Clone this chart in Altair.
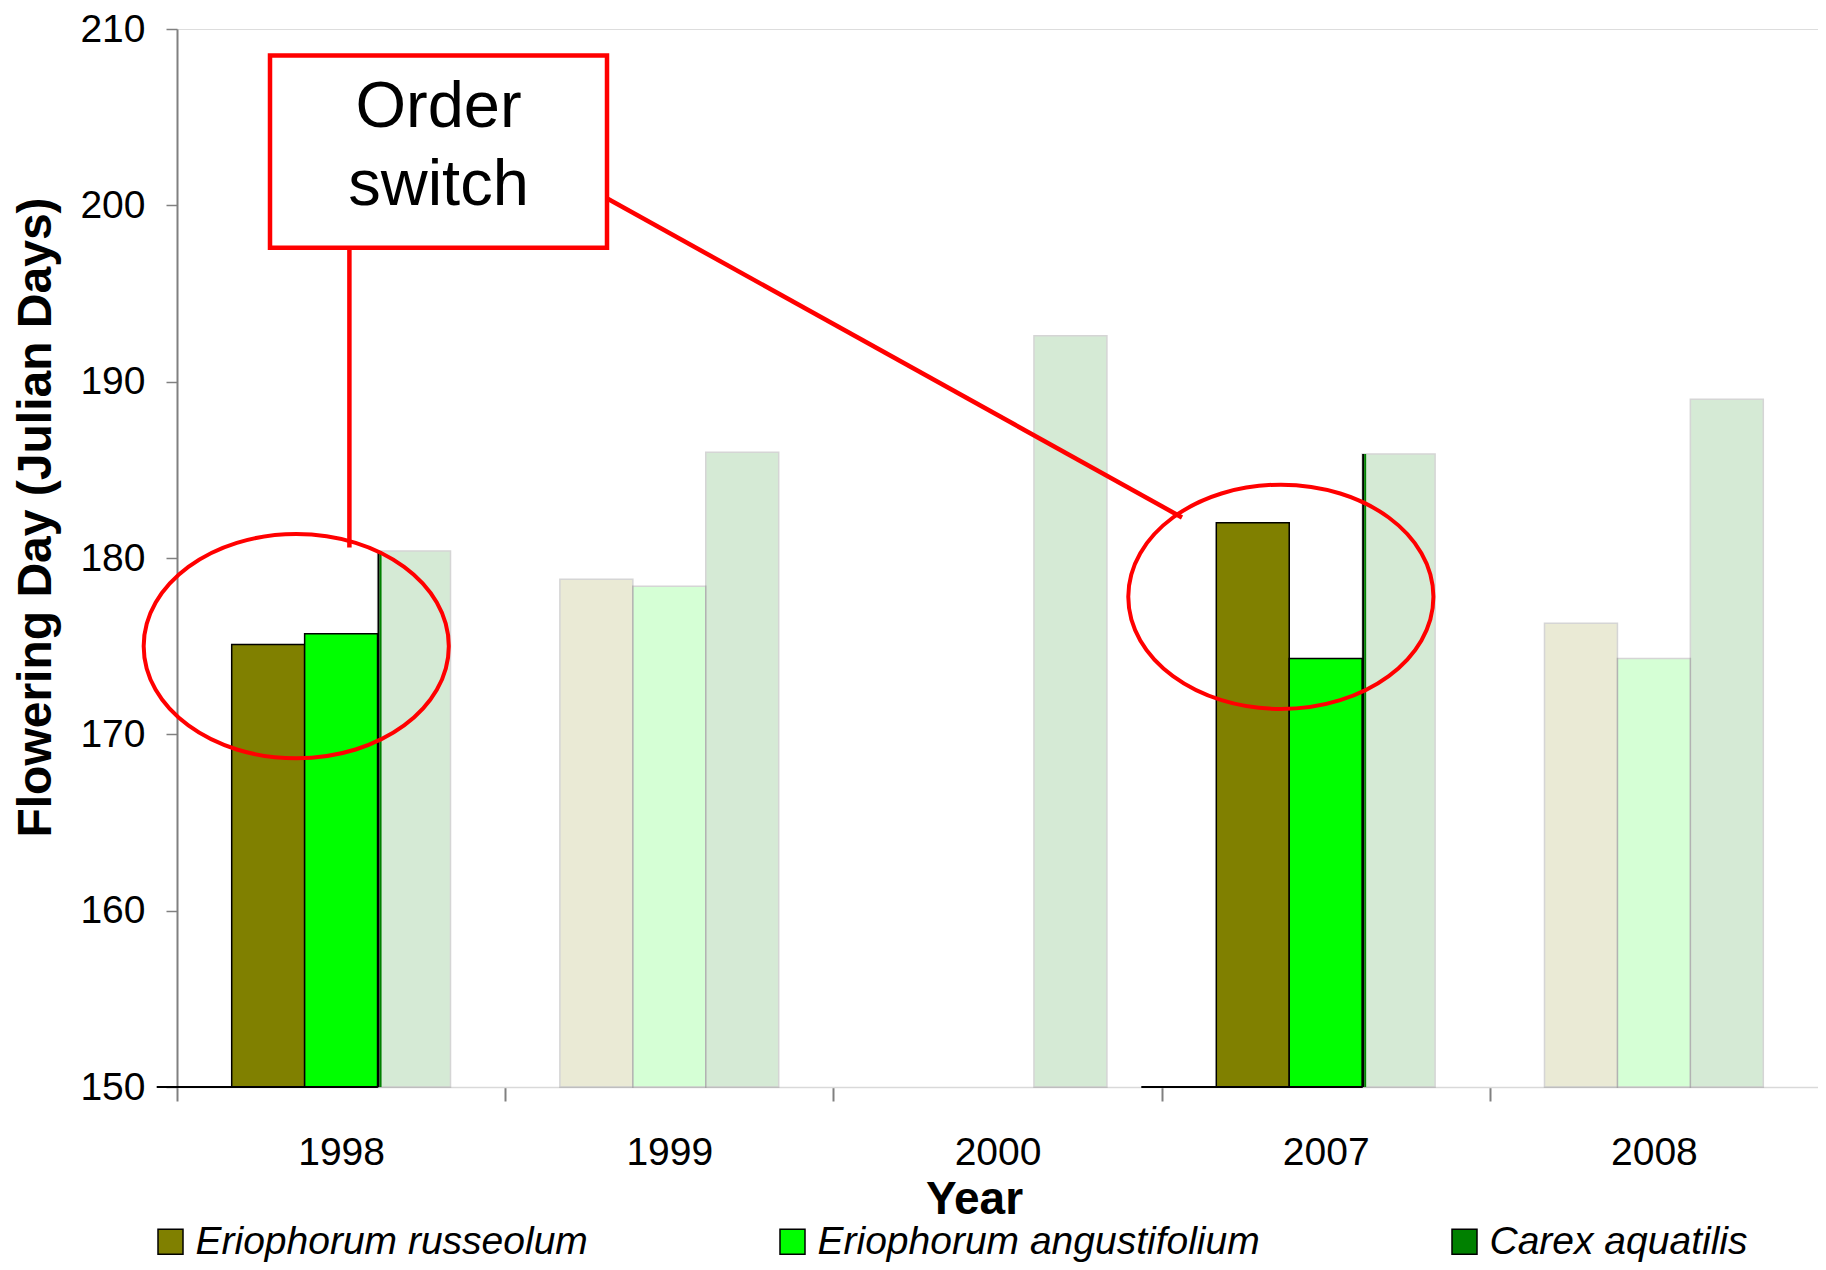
import altair as alt
import pandas as pd

# ---- data ----
years = ["1998", "1999", "2000", "2007", "2008"]
species = ["Eriophorum russeolum", "Eriophorum angustifolium", "Carex aquatilis"]
russeolum = [175.1, 178.8, None, 182.0, 176.3]
angustifolium = [175.7, 178.4, None, 174.3, 174.3]
carex = [180.4, 186.0, 192.6, 185.9, 189.0]
colors = ["#808000", "#00FF00", "#008000"]
y_ticks = [150, 160, 170, 180, 190, 200, 210]
highlight_years = ["1998", "2007"]
highlight_species = ["Eriophorum russeolum", "Eriophorum angustifolium"]
circled_years = ["1998", "2007"]
circle_centres = [175.0, 177.8]

rows = []
for sp, vals in zip(species, [russeolum, angustifolium, carex]):
    for yr, v in zip(years, vals):
        if v is not None:
            rows.append({"Year": yr, "Species": sp, "Day": v,
                         "highlight": (yr in highlight_years) and (sp in highlight_species)})
df = pd.DataFrame(rows)
partial = df[(df["Species"] == "Carex aquatilis") & (df["Year"].isin(highlight_years))]
one = pd.DataFrame({"k": [0]})

FONT = "Liberation Sans"
RED = "#FF0000"
W, H = 1641, 1058
STEP = W / 5

x_scale = alt.Scale(domain=years, paddingInner=1/3, paddingOuter=1/6)
y_scale = alt.Scale(domain=[150, 210], nice=False, zero=False)

x_axis = alt.Axis(title="Year", labelAngle=0, domainColor="#D9D9D9",
                  domainWidth=1.5, tickColor="#808080", tickWidth=2, tickSize=14,
                  tickOffset=-STEP / 2, labelOffset=STEP / 2,
                  labelFontSize=39, labelPadding=32, labelColor="black", labelFont=FONT,
                  titleFontSize=46, titleFontWeight="bold", titleFont=FONT, titleColor="black",
                  titleX=797, titleY=126, titleBaseline="alphabetic", grid=False)
y_axis = alt.Axis(values=y_ticks, title="Flowering Day (Julian Days)", grid=False,
                  domainColor="#808080", domainWidth=2, tickColor="#808080", tickWidth=1.5,
                  tickSize=11, labelFontSize=39, labelPadding=21, labelColor="black",
                  labelFont=FONT, titleFontSize=48, titleFontWeight="bold", titleFont=FONT,
                  titleColor="black", titleAngle=270, titleX=-127, titleY=488,
                  titleBaseline="alphabetic", titleAlign="center")
legend = alt.Legend(orient="none", legendX=-26, legendY=1193, direction="horizontal",
                    columns=3, title=None, symbolType="square", symbolSize=625,
                    symbolStrokeColor="black", symbolStrokeWidth=1.5, symbolOpacity=1,
                    labelFontSize=39, labelFont=FONT, labelFontStyle="italic",
                    labelColor="black", labelOffset=5.5, columnPadding=185, padding=0,
                    labelLimit=0)

bars = alt.Chart(df).mark_bar(stroke="black", strokeWidth=1.5).encode(
    x=alt.X("Year:N", scale=x_scale, axis=x_axis, sort=years),
    xOffset=alt.XOffset("Species:N", scale=alt.Scale(domain=species, paddingInner=0, paddingOuter=0)),
    y=alt.Y("Day:Q", scale=y_scale, axis=y_axis),
    y2=alt.datum(150),
    fill=alt.Fill("Species:N", scale=alt.Scale(domain=species, range=colors), legend=legend),
    opacity=alt.condition("datum.highlight", alt.value(1), alt.value(0.16)),
)

thin_black = alt.Chart(partial).mark_rule(color="black", strokeWidth=2, xOffset=1).encode(
    x=alt.X("Year:N", bandPosition=2/3),
    y=alt.Y("Day:Q"),
    y2=alt.datum(150),
)
thin_green = alt.Chart(partial).mark_rule(color="#008000", strokeWidth=2, xOffset=3).encode(
    x=alt.X("Year:N", bandPosition=2/3),
    y=alt.Y("Day:Q"),
    y2=alt.datum(150),
)
base_black = alt.Chart(pd.DataFrame({"Year": highlight_years})).mark_rule(
    color="black", strokeWidth=2, xOffset=-75).encode(
    x=alt.X("Year:N", bandPosition=0),
    x2=alt.X2("Year:N", bandPosition=2/3),
    y=alt.datum(150),
)

ELLIPSE = "M-1,0A1,0.735,0,1,1,1,0A1,0.735,0,1,1,-1,0Z"
ellipses = alt.Chart(pd.DataFrame({"Year": circled_years, "Day": circle_centres})).mark_point(
    shape=ELLIPSE, size=93100, filled=False, stroke=RED, strokeWidth=4, opacity=1).encode(
    x=alt.X("Year:N", bandPosition=0.295),
    y=alt.Y("Day:Q"),
)

v_link = alt.Chart(one).mark_rule(color=RED, strokeWidth=4.5).encode(
    x=alt.value(172.4), y=alt.datum(197.6), y2=alt.datum(180.6))
d_link = alt.Chart(one).mark_rule(color=RED, strokeWidth=4.5).encode(
    x=alt.value(429.8), x2=alt.value(1005), y=alt.datum(200.4), y2=alt.datum(182.3))
box = alt.Chart(one).mark_rect(fill="white", stroke=RED, strokeWidth=4.5).encode(
    x=alt.value(93), x2=alt.value(430), y=alt.datum(208.5), y2=alt.datum(197.6))
label = alt.Chart(one).mark_text(text=["Order", "switch"], fontSize=65, lineHeight=78,
                                 font=FONT, baseline="middle", align="center",
                                 color="black").encode(
    x=alt.value(261.5), y=alt.datum(205.6))

chart = alt.layer(bars, thin_black, thin_green, base_black, v_link, d_link, box, label, ellipses
).properties(
    width=W, height=H,
    padding={"left": 169, "top": 21, "right": 0, "bottom": 175},
    autosize=alt.AutoSizeParams(type="none"),
    background="white",
).configure_view(stroke=None).configure(font=FONT)

chart.save("out.html", embed_options={"renderer": "svg", "actions": False})
